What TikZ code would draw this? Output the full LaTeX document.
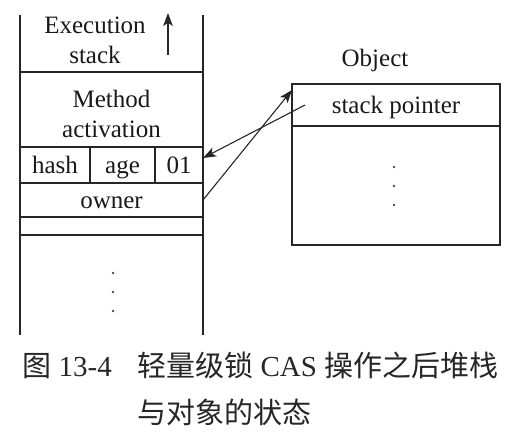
\documentclass[tikz,border=0pt]{standalone}
\usepackage{fontspec}
\setmainfont{Liberation Serif}
\newfontfamily\cjk{Noto Sans CJK SC}
\usepackage{tikz}
\usetikzlibrary{arrows.meta, positioning}

\begin{document}
\begin{tikzpicture}[x=0.5pt, y=-0.5pt,
            cell/.style={draw=black!85, line width=0.55pt, inner sep=0pt, outer sep=0pt,
                minimum width=91.5pt, font=\fontsize{12.5}{15}\selectfont, align=center,
                text height=9.5pt, text depth=1.5pt, text=black!90},
            label/.style={inner sep=0pt, font=\fontsize{12.5}{15}\selectfont, align=center,
                text=black!90},
            capt/.style={inner sep=0pt, anchor=base west, text=black!85,
                font=\fontsize{14.5}{17}\selectfont},
            frame/.style={draw=black!85, line width=0.55pt},
            heavy/.style={draw=black!85, line width=1.1pt},
            arr/.style={-{Stealth[length=6.5pt, width=4.8pt, inset=1.6pt]}, black!85, line width=0.55pt}
          ]
          \useasboundingbox (0,0) rectangle (528,446);
          % execution stack
          \draw[frame] (20,15) -- (20,335);
          \draw[frame] (203,15) -- (203,335);
          \node[label] (exec) at (95,40) {Execution\\stack};
          \coordinate (grow0) at (168,55);
          \coordinate (grow1) at (168,13);
          \draw[arr] (grow0) -- (grow1);
          \node[cell, minimum height=37.5pt, text height=, text depth=] (meth) at (111.5,109.5) {};
          \node[label, yshift=-2pt] (methtxt) at (meth.center) {Method\\activation};
          \node[cell, minimum width=35pt, minimum height=18pt, anchor=north west]
          (hash) at (meth.south west) {hash};
          \node[cell, minimum width=32.5pt, minimum height=18pt, right=0pt of hash] (age) {age};
          \node[cell, minimum width=24pt, minimum height=18pt, right=0pt of age] (flag) {01};
          \node[cell, minimum height=17pt, anchor=north west] (owner) at (hash.south west) {owner};
          \node[cell, minimum height=9pt, text height=0pt, text depth=0pt, below=0pt of owner] (free) {};
          \draw[heavy] (meth.north west) -- (meth.north east);
          \draw[heavy] (free.south west) -- (free.south east);
          \fill[black!70] (113,273) circle (0.7pt) (113,292) circle (0.7pt) (113,311) circle (0.7pt);
          % object
          \node[cell, minimum width=104pt, minimum height=80.5pt, text height=0pt, text depth=0pt] (obj) at (396,164.5) {};
          \node[cell, minimum width=104pt, minimum height=21pt, anchor=north] (sp) at (obj.north) {stack pointer};
          \node[label] (objname) at (375,60) {Object};
          \fill[black!70] (394,167) circle (0.7pt) (394,186) circle (0.7pt) (394,205) circle (0.7pt);
          % pointers
          \coordinate (spfrom) at (305,105);
          \draw[arr] (spfrom) -- ([yshift=3.5pt]flag.east);
          \draw[arr] (owner.east) -- ([yshift=-3pt]sp.north west);
          % caption
          \node[capt] (capnum) at (22,376) {{\cjk 图} 13-4};
          \node[capt] (capa) at (137,376) {{\cjk 轻量级锁} CAS {\cjk 操作之后堆栈}};
          \node[capt] (capb) at (137,423) {\cjk 与对象的状态};
        \end{tikzpicture}
\end{document}
